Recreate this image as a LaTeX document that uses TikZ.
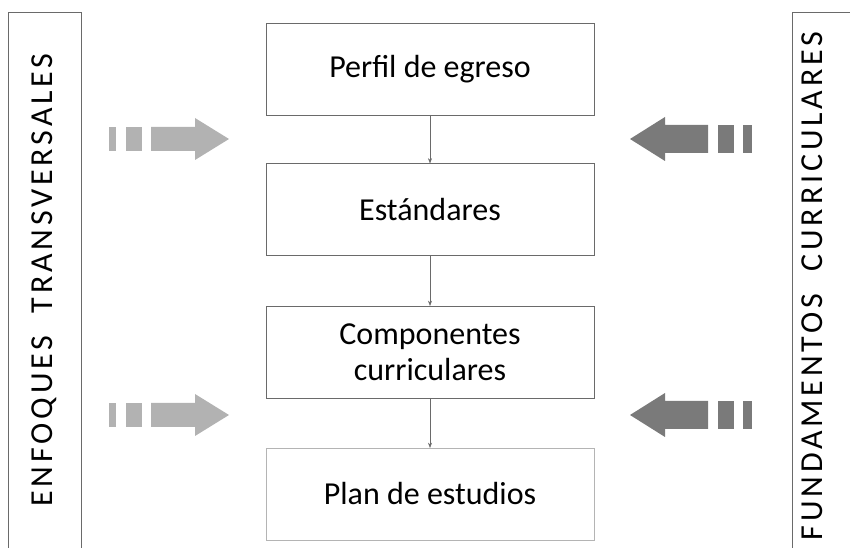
\documentclass[tikz,border=0pt]{standalone}
\usepackage{fontspec}
\setmainfont{Carlito}
\usetikzlibrary{arrows.meta}
\definecolor{frame}{HTML}{6A6A6A}
\definecolor{lightframe}{HTML}{B4B4B4}
\definecolor{lightarrow}{HTML}{B2B2B2}
\definecolor{darkarrow}{HTML}{7A7A7A}
\begin{document}
\begin{tikzpicture}[x=0.75pt, y=-0.75pt, line join=miter,
	every node/.style={font=\fontsize{24}{27}\selectfont, inner sep=0pt, outer sep=0pt},
	stage/.style={draw=frame, line width=0.5pt, minimum width=246pt, minimum height=69pt, align=center},
	band/.style={draw=frame, line width=0.5pt},
	link/.style={-{Stealth[length=4pt, width=3pt]}, draw=frame, line width=0.4pt}]
	\useasboundingbox (0, 0) rectangle (850, 548);

	% Bandas laterales
	\draw[band] (8, 548) -- (8, 12) -- (81, 12) -- (81, 548);
	\draw[band] (792, 548) -- (792, 12) -- (851, 12);
	\node[rotate=90] (enfoques) at (44, 280) {\addfontfeatures{LetterSpace=12}ENFOQUES\hspace{0.7em}TRANSVERSALES};
	\node[rotate=90] (fundamentos) at (812, 286) {\addfontfeatures{LetterSpace=12}FUNDAMENTOS\hspace{0.7em}CURRICULARES};

	% Etapas
	\node[stage] (perfil) at (430, 69) {Perfil de egreso};
	\node[stage] (estandares) at (430, 209.5) {Estándares};
	\node[stage] (componentes) at (430, 352) {Componentes\\curriculares};
	\node[stage, draw=lightframe] (plan) at (430, 494) {Plan de estudios};
	\draw[link] (perfil) -- (estandares);
	\draw[link] (estandares) -- (componentes);
	\draw[link] (componentes) -- (plan);

	% Flechas de entrada
	\foreach \y in {139, 415} {
		\fill[lightarrow] (109, \y-12) rectangle (116, \y+12);
		\fill[lightarrow] (126, \y-12) rectangle (142, \y+12);
		\fill[lightarrow] (151, \y-12) -- (195, \y-12) -- (195, \y-21) -- (229, \y) -- (195, \y+21) -- (195, \y+12) -- (151, \y+12) -- cycle;
		\fill[darkarrow] (752, \y-14) rectangle (743, \y+14);
		\fill[darkarrow] (734, \y-14) rectangle (718, \y+14);
		\fill[darkarrow] (708, \y-14) -- (665, \y-14) -- (665, \y-22) -- (630, \y) -- (665, \y+22) -- (665, \y+14) -- (708, \y+14) -- cycle;
	}
\end{tikzpicture}
\end{document}
